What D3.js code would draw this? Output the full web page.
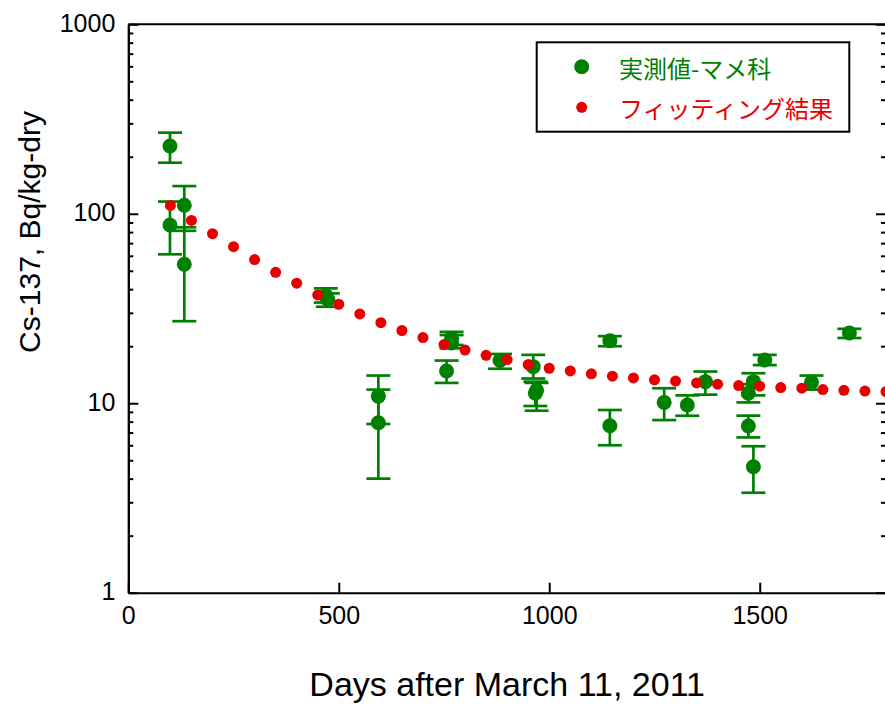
<!DOCTYPE html>
<html>
<head>
<meta charset="utf-8">
<script src="https://cdn.jsdelivr.net/npm/d3@7/dist/d3.min.js"></script>
<style>
  body { margin: 0; background: #fff; }
  svg { display: block; }
</style>
</head>
<body>
<svg id="chart" width="885" height="704"></svg>
<script>
// Measured Cs-137 in legumes (days after 2011-03-11, Bq/kg-dry, error range)
const measDays   = [99, 99, 133, 133, 469, 474, 594, 594, 756, 768, 768, 883, 962, 970, 967, 1144, 1144, 1273, 1328, 1371, 1485, 1473, 1473, 1485, 1512, 1623, 1713];
const measValues = [228, 87.2, 111, 54.1, 37.0, 35.3, 10.9, 7.89, 14.8, 22.0, 20.8, 16.8, 15.6, 11.7, 11.3, 21.4, 7.61, 10.1, 9.78, 13.0, 13.0, 11.3, 7.58, 4.62, 16.9, 12.9, 23.5];
const measLow    = [186, 61.1, 81.3, 27.1, 34.0, 32.3, 7.77, 4.0, 12.8, 20.3, 19.5, 15.2, 13.5, 9.13, 9.67, 20.0, 6.0, 8.15, 8.59, 11.1, 11.0, 10.1, 6.6, 3.37, 15.9, 11.8, 22.1];
const measHigh   = [268, 116, 140, 84.8, 40.4, 38.0, 14.0, 11.8, 16.8, 23.8, 22.9, 18.2, 18.0, 12.8, 13.0, 22.6, 9.21, 12.0, 11.0, 14.7, 14.4, 12.6, 8.6, 5.93, 18.0, 14.0, 24.7];

// Fitted curve, sampled every 50 days
const fitDays   = [100, 150, 200, 250, 300, 350, 400, 450, 500, 550, 600, 650, 700, 750, 800, 850, 900, 950, 1000, 1050, 1100, 1150, 1200, 1250, 1300, 1350, 1400, 1450, 1500, 1550, 1600, 1650, 1700, 1750, 1800];
const fitValues = [110.6, 92.2, 78.5, 67.0, 57.3, 49.1, 43.0, 37.3, 33.3, 29.6, 26.6, 24.2, 22.2, 20.4, 19.1, 17.9, 17.0, 16.0, 15.3, 14.8, 14.3, 13.9, 13.6, 13.3, 13.1, 12.8, 12.6, 12.4, 12.3, 12.1, 12.0, 11.8, 11.7, 11.6, 11.5];

const xTicks = [0, 500, 1000, 1500];
const yTicks = [1, 10, 100, 1000];
const yMinorTicks = [2,3,4,5,6,7,8,9,20,30,40,50,60,70,80,90,200,300,400,500,600,700,800,900];

const legendLabels = ["実測値-マメ科", "フィッティング結果"];
const xTitle = "Days after March 11, 2011";
const yTitle = "Cs-137, Bq/kg-dry";

const GREEN = "#008000";
const RED = "#e60000";
const LATIN = "'Liberation Sans', Arial, sans-serif";
const CJK = "'Noto Sans CJK JP', sans-serif";

const svg = d3.select("#chart");
const plotL = 128.3, plotR = 886, plotT = 24.3, plotB = 592.7;

const x = d3.scaleLinear().domain([0, 1800]).range([plotL, plotR]);
const y = d3.scaleLog().domain([1, 1000]).range([plotB, plotT]);

// Frame and axes
const gx = svg.append("g").attr("transform", `translate(0,${plotB})`)
  .call(d3.axisBottom(x).tickValues(xTicks).tickSizeInner(-10).tickSizeOuter(0).tickPadding(14).tickFormat(d3.format("d")));
const gyMinor = svg.append("g").attr("transform", `translate(${plotL},0)`)
  .call(d3.axisLeft(y).tickValues(yMinorTicks).tickSizeInner(-5).tickSizeOuter(0).tickFormat(""));
const gy = svg.append("g").attr("transform", `translate(${plotL},0)`)
  .call(d3.axisLeft(y).tickValues(yTicks).tickSizeInner(-10).tickSizeOuter(0).tickPadding(13).tickFormat(d3.format("d")));
const gyrMinor = svg.append("g").attr("transform", `translate(${plotR},0)`)
  .call(d3.axisRight(y).tickValues(yMinorTicks).tickSizeInner(-5).tickSizeOuter(0).tickFormat(""));
const gyr = svg.append("g").attr("transform", `translate(${plotR},0)`)
  .call(d3.axisRight(y).tickValues(yTicks).tickSizeInner(-10).tickSizeOuter(0).tickFormat(""));
svg.append("line").attr("x1", plotL).attr("x2", plotR).attr("y1", plotT).attr("y2", plotT)
  .attr("stroke", "#000").attr("stroke-width", 2);

svg.selectAll(".domain, .tick line").attr("stroke", "#000").attr("stroke-width", 2);
[gx, gy].forEach(g => g.selectAll("text")
  .attr("font-family", LATIN).attr("font-size", 25).attr("fill", "#000"));
gy.selectAll("text").attr("dy", "0.28em");

// Axis titles
svg.append("text").attr("x", (plotL + plotR) / 2).attr("y", 696)
  .attr("text-anchor", "middle").attr("font-family", LATIN).attr("font-size", 34)
  .text(xTitle);
svg.append("text").attr("transform", `translate(40,232) rotate(-90)`)
  .attr("text-anchor", "middle").attr("font-family", LATIN).attr("font-size", 30)
  .text(yTitle);

// Error bars
const cap = 12;
const eb = svg.append("g").attr("stroke", GREEN).attr("stroke-width", 2.7).attr("fill", "none");
measDays.forEach((d, i) => {
  const cx = x(d), y0 = y(measLow[i]), y1 = y(measHigh[i]);
  eb.append("line").attr("x1", cx).attr("x2", cx).attr("y1", y0).attr("y2", y1);
  eb.append("line").attr("x1", cx - cap).attr("x2", cx + cap).attr("y1", y0).attr("y2", y0);
  eb.append("line").attr("x1", cx - cap).attr("x2", cx + cap).attr("y1", y1).attr("y2", y1);
});

// Measured points
svg.append("g").selectAll("circle").data(measDays).join("circle")
  .attr("cx", d => x(d)).attr("cy", (d, i) => y(measValues[i])).attr("r", 7.5).attr("fill", GREEN);

// Fitted curve points
svg.append("g").selectAll("circle").data(fitDays).join("circle")
  .attr("cx", d => x(d)).attr("cy", (d, i) => y(fitValues[i])).attr("r", 5.5).attr("fill", RED);

// Legend
const lg = svg.append("g");
lg.append("rect").attr("x", 536.7).attr("y", 42.3).attr("width", 312.6).attr("height", 89.4)
  .attr("fill", "#fff").attr("stroke", "#000").attr("stroke-width", 2);
lg.append("circle").attr("cx", 581.7).attr("cy", 66.7).attr("r", 7.5).attr("fill", GREEN);
lg.append("circle").attr("cx", 581.7).attr("cy", 107.3).attr("r", 5.5).attr("fill", RED);
lg.append("text").attr("x", 619).attr("y", 77.5).attr("font-family", CJK).attr("font-size", 24)
  .attr("fill", GREEN).text(legendLabels[0]);
lg.append("text").attr("x", 619).attr("y", 118).attr("font-family", CJK).attr("font-size", 24)
  .attr("fill", RED).text(legendLabels[1]);
</script>
</body>
</html>
